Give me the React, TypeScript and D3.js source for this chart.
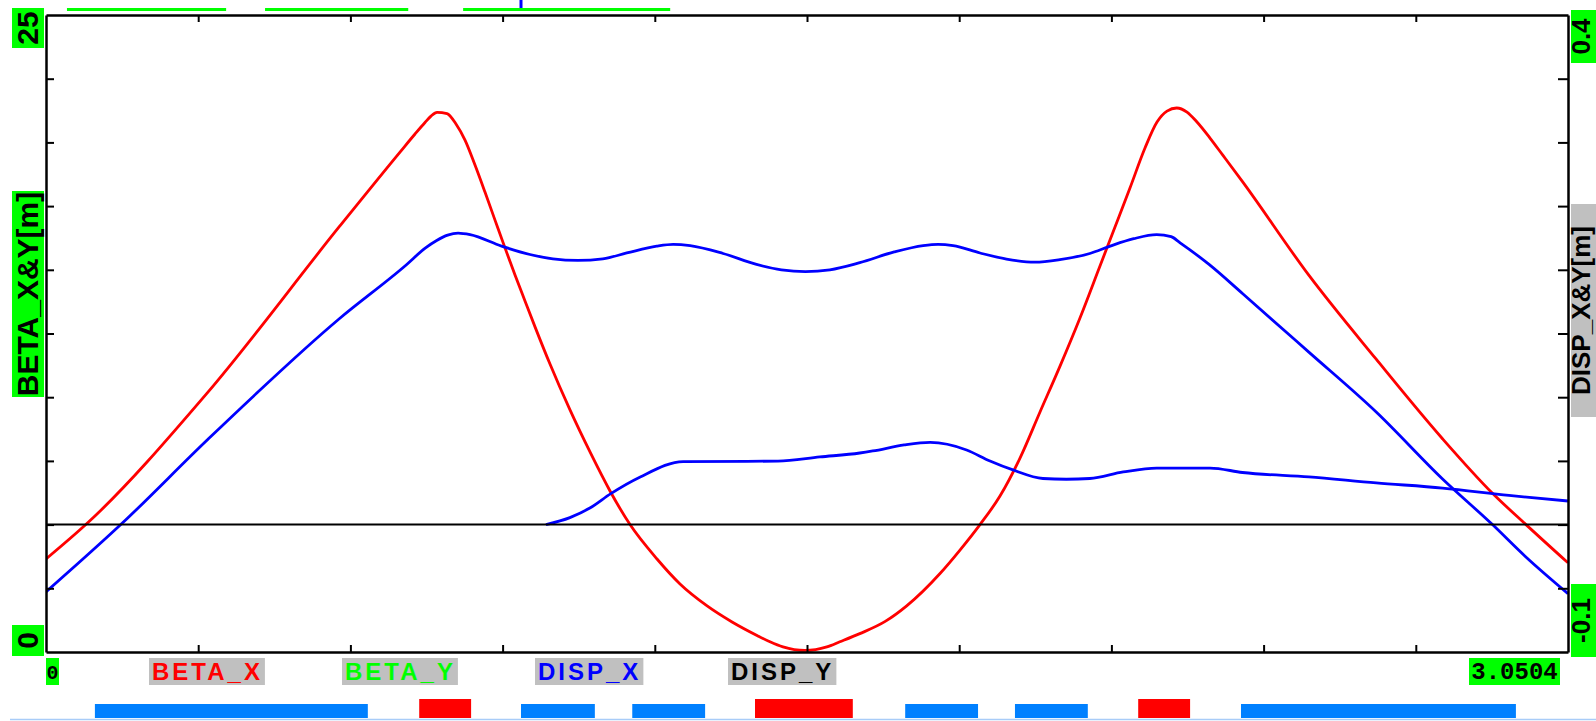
import React, { useRef, useEffect } from 'react';
import * as d3 from 'd3';

const S_END = 3.0504;

// lattice functions: [s in m, value]
const betaX: [number, number][] = [
  [0, 3.65], [0.082, 5.04], [0.322, 10.14], [0.589, 16.72], [0.7095, 19.62], [0.7396, 20.33],
  [0.7596, 20.78], [0.7716, 21.03], [0.7837, 21.18], [0.8037, 21.13], [0.8217, 20.72],
  [0.8398, 20.09], [0.8598, 19.11], [0.8798, 18.05], [0.8999, 16.95], [0.9199, 15.86],
  [0.94, 14.8], [0.96, 13.78], [0.9801, 12.76], [1.0101, 11.3], [1.0502, 9.5], [1.0903, 7.85],
  [1.1304, 6.32], [1.1705, 5.0], [1.2246, 3.65], [1.2707, 2.67], [1.325, 1.81], [1.375, 1.18],
  [1.425, 0.65], [1.451, 0.4], [1.477, 0.2], [1.521, 0.06], [1.565, 0.2], [1.591, 0.4],
  [1.631, 0.72], [1.682, 1.2], [1.725, 1.81], [1.7918, 3.08], [1.8318, 4.0], [1.8719, 5.0],
  [1.912, 6.12], [1.9521, 7.61], [1.9922, 9.42], [2.0323, 11.22], [2.0723, 13.11], [2.1124, 15.15],
  [2.1425, 16.68], [2.1725, 18.21], [2.2026, 19.78], [2.2267, 20.8], [2.2467, 21.23],
  [2.2661, 21.35], [2.2868, 21.19], [2.3068, 20.8], [2.3329, 20.17], [2.3589, 19.49],
  [2.3984, 18.45], [2.5313, 14.78], [2.6656, 11.5], [2.7993, 8.36], [2.8995, 6.22], [2.9662, 5.0],
  [3.0504, 3.5],
];

// upper blue curve, plotted against the left axis
const betaY: [number, number][] = [
  [0, 2.36], [0.152, 5.04], [0.322, 8.3], [0.589, 13.1], [0.723, 15.21], [0.76, 15.85],
  [0.783, 16.15], [0.805, 16.36], [0.826, 16.44], [0.85, 16.38], [0.913, 15.93], [0.97, 15.6],
  [1.016, 15.43], [1.066, 15.37], [1.116, 15.43], [1.164, 15.66], [1.224, 15.93], [1.257, 16.0],
  [1.291, 15.95], [1.357, 15.64], [1.424, 15.21], [1.474, 15.0], [1.522, 14.93], [1.571, 15.0],
  [1.631, 15.28], [1.7, 15.7], [1.758, 15.95], [1.788, 16.0], [1.818, 15.95], [1.872, 15.66],
  [1.925, 15.42], [1.982, 15.3], [2.032, 15.4], [2.092, 15.64], [2.133, 15.93], [2.18, 16.22],
  [2.226, 16.38], [2.255, 16.3], [2.273, 16.06], [2.331, 15.21], [2.398, 14.07], [2.531, 11.77],
  [2.666, 9.42], [2.799, 6.79], [2.899, 5.0], [2.966, 3.73], [3.0504, 2.29],
];

// lower blue curve, right axis
const dispX: [number, number][] = [
  [1.002, 0], [1.05, 0.0055], [1.09, 0.013], [1.132, 0.0243], [1.191, 0.0374], [1.277, 0.0495],
  [1.467, 0.0498], [1.551, 0.0531], [1.631, 0.0562], [1.657, 0.0578], [1.72, 0.0625],
  [1.772, 0.0645], [1.845, 0.0586], [1.892, 0.0499], [1.938, 0.0429], [1.998, 0.0362],
  [2.045, 0.0356], [2.092, 0.0362], [2.159, 0.0413], [2.226, 0.0444], [2.333, 0.0444],
  [2.398, 0.0409], [2.531, 0.0374], [2.666, 0.0327], [2.799, 0.0287], [2.932, 0.0229],
  [3.0504, 0.0185],
];

const dispY: [number, number][] = [[0, 0], [S_END, 0]];

// element strip under the plot: [s start, s end]
const bends: [number, number][] = [
  [0.098, 0.645], [0.952, 1.1], [1.175, 1.321], [1.722, 1.868], [1.942, 2.088], [2.395, 2.946],
];
const quads: [number, number][] = [[0.748, 0.852], [1.421, 1.617], [2.189, 2.293]];

// marks above the frame
const topMarks: [number, number][] = [[0.042, 0.361], [0.439, 0.726], [0.836, 1.251]];
const topPointer = 0.952;

const legendNames = ['BETA_X', 'BETA_Y', 'DISP_X', 'DISP_Y'];
const legendColors = ['#ff0000', '#00ff00', '#0000ff', '#000000'];

const leftLabels = ['25', 'BETA_X&Y[m]', '0'];
const rightLabels = ['0.4', 'DISP_X&Y[m]', '-0.1'];

const App = () => {
  const svgRef = useRef<SVGSVGElement>(null);

  useEffect(() => {
    const svg = d3.select(svgRef.current);
    svg.selectAll('*').remove();

    const width = 1596;
    const height = 721;
    const margin = { top: 15, right: 28, bottom: 69, left: 46 };
    const x0 = margin.left;
    const x1 = width - margin.right;
    const yTop = margin.top;
    const yBot = height - margin.bottom;
    const sans = "'Liberation Sans', Arial, sans-serif";
    const mono = "'Liberation Mono', 'Courier New', monospace";

    const x = d3.scaleLinear().domain([0, S_END]).range([x0, x1]);
    const yL = d3.scaleLinear().domain([0, 25]).range([yBot, yTop]);
    const yR = d3.scaleLinear().domain([-0.1, 0.4]).range([yBot, yTop]);

    svg.append('rect').attr('width', width).attr('height', height).attr('fill', '#ffffff');

    // marks above the plot
    svg.append('g')
      .selectAll('rect')
      .data(topMarks)
      .join('rect')
      .attr('x', d => x(d[0]))
      .attr('y', 8)
      .attr('width', d => x(d[1]) - x(d[0]))
      .attr('height', 3)
      .attr('fill', '#00ff00');
    svg.append('rect')
      .attr('x', x(topPointer) - 1.5).attr('y', 0)
      .attr('width', 3).attr('height', 8)
      .attr('fill', '#0000ff');

    // curves
    svg.append('clipPath').attr('id', 'plot-clip')
      .append('rect').attr('x', x0).attr('y', yTop - 2).attr('width', x1 - x0).attr('height', yBot - yTop + 2);

    const lineL = d3.line<[number, number]>().x(d => x(d[0])).y(d => yL(d[1])).curve(d3.curveMonotoneX);
    const lineR = d3.line<[number, number]>().x(d => x(d[0])).y(d => yR(d[1])).curve(d3.curveMonotoneX);

    const curves = svg.append('g').attr('clip-path', 'url(#plot-clip)').attr('fill', 'none');
    curves.append('path').attr('d', lineL(betaX)).attr('stroke', '#ff0000').attr('stroke-width', 2.8);
    curves.append('path').attr('d', lineL(betaY)).attr('stroke', '#0000ff').attr('stroke-width', 2.8);
    curves.append('path').attr('d', lineR(dispX)).attr('stroke', '#0000ff').attr('stroke-width', 2.8);
    curves.append('path').attr('d', lineR(dispY)).attr('stroke', '#000000').attr('stroke-width', 2);

    // frame and ticks
    const xTicks = d3.range(1, 10).map(i => (i * S_END) / 10);
    const lTicks = d3.range(1, 10).map(i => i * 2.5);
    const rTicks = d3.range(1, 10).map(i => -0.1 + i * 0.05);
    const noLabel = () => '';

    const axes = [
      svg.append('g').attr('transform', `translate(0,${yBot})`)
        .call(d3.axisBottom(x).tickValues(xTicks).tickSizeInner(-7).tickSizeOuter(0).tickFormat(noLabel)),
      svg.append('g').attr('transform', `translate(0,${yTop})`)
        .call(d3.axisTop(x).tickValues(xTicks).tickSizeInner(-7).tickSizeOuter(0).tickFormat(noLabel)),
      svg.append('g').attr('transform', `translate(${x0},0)`)
        .call(d3.axisLeft(yL).tickValues(lTicks).tickSizeInner(-8).tickSizeOuter(0).tickFormat(noLabel)),
      svg.append('g').attr('transform', `translate(${x1},0)`)
        .call(d3.axisRight(yR).tickValues(rTicks).tickSizeInner(-10).tickSizeOuter(0).tickFormat(noLabel)),
    ];
    axes.forEach(a => {
      a.select('.domain').attr('stroke', '#000').attr('stroke-width', 2.5);
      a.selectAll('.tick line').attr('stroke', '#000').attr('stroke-width', 2);
    });

    // rotated axis labels
    const leftBoxes = [[8, 48, '#00ff00'], [191, 397, '#00ff00'], [625, 656, '#00ff00']];
    leftLabels.forEach((t, i) => {
      const [a, b, c] = leftBoxes[i] as [number, number, string];
      svg.append('rect').attr('x', 12).attr('y', a).attr('width', 32).attr('height', b - a).attr('fill', c);
      svg.append('text')
        .attr('transform', `translate(38,${(a + b) / 2}) rotate(-90)`)
        .attr('text-anchor', 'middle')
        .attr('font-family', sans).attr('font-weight', 'bold').attr('font-size', 30)
        .attr('fill', '#000')
        .text(t);
    });

    const rightBoxes = [[10, 63, '#00ff00'], [204, 417, '#c0c0c0'], [584, 657, '#00ff00']];
    rightLabels.forEach((t, i) => {
      const [a, b, c] = rightBoxes[i] as [number, number, string];
      svg.append('rect').attr('x', 1571).attr('y', a).attr('width', 25).attr('height', b - a).attr('fill', c);
      svg.append('text')
        .attr('transform', `translate(1590,${(a + b) / 2}) rotate(-90)`)
        .attr('text-anchor', 'middle')
        .attr('font-family', sans).attr('font-weight', 'bold').attr('font-size', 26)
        .attr('fill', '#000')
        .text(t);
    });

    // s range labels
    const sLabel = (cx: number, left: number, w: number, t: string, size: number) => {
      svg.append('rect').attr('x', left).attr('y', 658).attr('width', w).attr('height', 27).attr('fill', '#00ff00');
      svg.append('text')
        .attr('x', cx).attr('y', 679)
        .attr('text-anchor', 'middle')
        .attr('font-family', mono).attr('font-weight', 'bold').attr('font-size', size)
        .attr('fill', '#000')
        .text(t);
    };
    sLabel(x(0) + 6.5, x(0), 13, '0', 20);
    sLabel(x(S_END) - 53.5, x(S_END) - 99, 91, String(S_END), 24);

    // legend
    legendNames.forEach((name, i) => {
      const left = 149 + i * 193;
      const g = svg.append('g');
      const box = g.append('rect').attr('x', left).attr('y', 658).attr('height', 27).attr('fill', '#c0c0c0');
      const txt = g.append('text')
        .attr('x', left + 3).attr('y', 680)
        .attr('font-family', sans).attr('font-weight', 'bold').attr('font-size', 24)
        .attr('letter-spacing', 3)
        .attr('fill', legendColors[i])
        .text(name);
      const len = (txt.node() as SVGTextElement).getComputedTextLength();
      box.attr('width', len + 5);
    });

    // element strip
    const strip = svg.append('g');
    strip.selectAll('rect.bend')
      .data(bends)
      .join('rect')
      .attr('class', 'bend')
      .attr('x', d => x(d[0]))
      .attr('y', 704)
      .attr('width', d => x(d[1]) - x(d[0]))
      .attr('height', 14)
      .attr('fill', '#0080ff');
    strip.selectAll('rect.quad')
      .data(quads)
      .join('rect')
      .attr('class', 'quad')
      .attr('x', d => x(d[0]))
      .attr('y', 699)
      .attr('width', d => x(d[1]) - x(d[0]))
      .attr('height', 19)
      .attr('fill', '#ff0000');
    svg.append('line')
      .attr('x1', 10).attr('x2', width)
      .attr('y1', 719.5).attr('y2', 719.5)
      .attr('stroke', '#a8ccf8').attr('stroke-width', 1.5);
  }, []);

  return (
    <div style={{ position: 'absolute', left: 0, top: 0 }}>
      <svg ref={svgRef} width={1596} height={721} style={{ display: 'block' }} />
    </div>
  );
};

export default App;
